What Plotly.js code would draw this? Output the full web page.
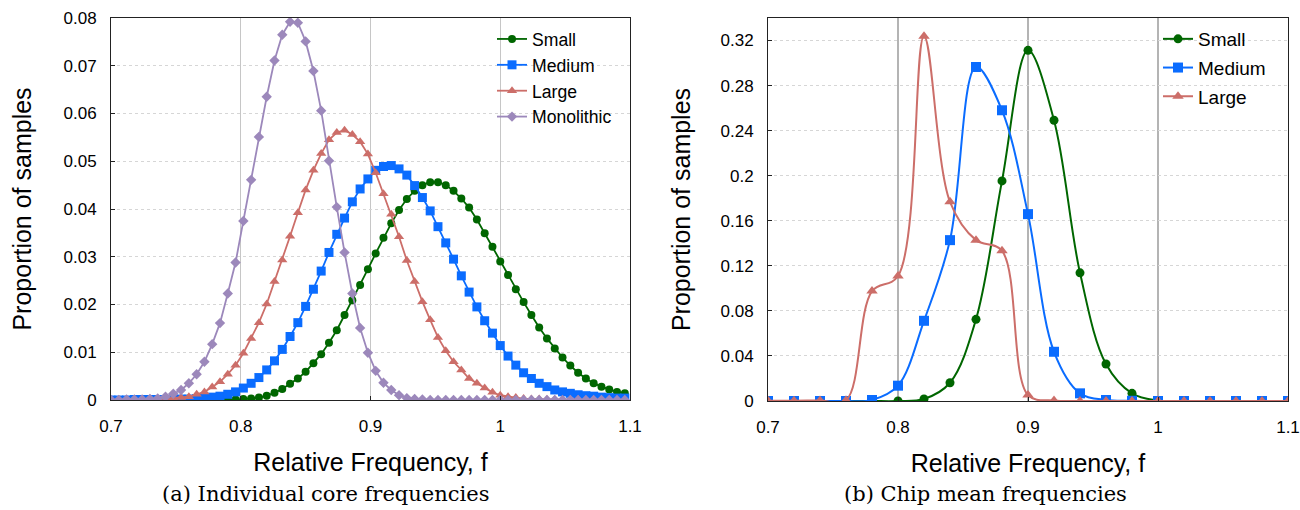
<!DOCTYPE html>
<html>
<head>
<meta charset="utf-8">
<script src="https://cdn.plot.ly/plotly-3.0.1.min.js"></script>
<style>
html,body{margin:0;padding:0;background:#fff;}
#chart{width:1300px;height:510px;}
</style>
</head>
<body>
<div id="chart"></div>
<script>
// ---------- (a) Individual core frequencies ----------
const coreFreq = [0.700,0.706,0.712,0.718,0.724,0.730,0.736,0.742,0.748,0.754,0.760,0.766,0.772,0.778,0.784,0.790,0.796,0.802,0.808,0.814,0.820,0.826,0.832,0.838,0.844,0.850,0.856,0.862,0.868,0.874,0.880,0.886,0.892,0.898,0.904,0.910,0.916,0.922,0.928,0.934,0.940,0.946,0.952,0.958,0.964,0.970,0.976,0.982,0.988,0.994,1.000,1.006,1.012,1.018,1.024,1.030,1.036,1.042,1.048,1.054,1.060,1.066,1.072,1.078,1.084,1.090,1.096];
const coreSmall = [0,0,0,0,0,0,0,0,0,0,0,0,0.0001,0.0001,0.0001,0.0001,0.0001,0.0002,0.0003,0.0005,0.0009,0.0015,0.0023,0.0034,0.0045,0.0059,0.0077,0.0096,0.0120,0.0146,0.0178,0.0209,0.0241,0.0274,0.0307,0.0340,0.0370,0.0398,0.0421,0.0438,0.0450,0.0456,0.0456,0.0450,0.0438,0.0422,0.0403,0.0378,0.0349,0.0321,0.0290,0.0262,0.0232,0.0205,0.0178,0.0152,0.0129,0.0108,0.0089,0.0072,0.0057,0.0045,0.0035,0.0028,0.0022,0.0017,0.0014];
const coreMedium = [0,0,0,0.0001,0.0001,0.0001,0.0001,0.0001,0.0002,0.0002,0.0002,0.0003,0.0004,0.0006,0.0008,0.0012,0.0017,0.0025,0.0035,0.0047,0.0063,0.0082,0.0106,0.0133,0.0162,0.0196,0.0232,0.0270,0.0309,0.0347,0.0381,0.0415,0.0442,0.0463,0.0481,0.0489,0.0491,0.0484,0.0471,0.0449,0.0424,0.0396,0.0363,0.0329,0.0295,0.0260,0.0226,0.0195,0.0166,0.0140,0.0114,0.0092,0.0073,0.0057,0.0045,0.0035,0.0028,0.0021,0.0017,0.0014,0.0011,0.0009,0.0008,0.0006,0.0005,0.0004,0.0004];
const coreLarge = [0,0.0001,0.0001,0.0001,0.0001,0.0002,0.0002,0.0003,0.0004,0.0005,0.0007,0.0012,0.0017,0.0027,0.0038,0.0054,0.0073,0.0098,0.0129,0.0162,0.0201,0.0248,0.0293,0.0343,0.0392,0.0440,0.0481,0.0516,0.0545,0.0560,0.0565,0.0556,0.0541,0.0515,0.0476,0.0432,0.0389,0.0342,0.0292,0.0248,0.0206,0.0168,0.0131,0.0103,0.0080,0.0063,0.0045,0.0035,0.0025,0.0016,0.0010,0.0007,0.0005,0.0003,0.0002,0.0002,0.0001,0.0001,0.0001,0.0001,0.0001,0,0,0,0,0,0];
const coreMonolithic = [0,0,0.0001,0.0001,0.0001,0.0002,0.0003,0.0007,0.0013,0.0021,0.0035,0.0054,0.0080,0.0117,0.0161,0.0223,0.0288,0.0375,0.0461,0.0551,0.0635,0.0711,0.0765,0.0792,0.0790,0.0751,0.0689,0.0606,0.0501,0.0404,0.0309,0.0223,0.0151,0.0099,0.0061,0.0036,0.0021,0.0010,0.0004,0.0002,0.0001,0,0,0,0,0,0,0,0,0,0,0,0,0,0,0,0,0,0,0,0,0,0,0,0,0,0];

// ---------- (b) Chip mean frequencies ----------
const chipFreq = [0.70,0.72,0.74,0.76,0.78,0.80,0.82,0.84,0.86,0.88,0.90,0.92,0.94,0.96,0.98,1.00,1.02,1.04,1.06,1.08,1.10];
const chipSmall = [0,0,0,0,0,0,0.0018,0.0162,0.0725,0.1954,0.3113,0.2492,0.1138,0.0328,0.0068,0.0004,0,0,0,0,0];
const chipMedium = [0,0,0,0,0.0009,0.0136,0.0712,0.1428,0.2965,0.2581,0.1659,0.0437,0.0068,0.0009,0.0002,0,0,0,0,0,0];
const chipLarge = [0.0002,0.0003,0.0004,0.0006,0.0976,0.1109,0.3237,0.1768,0.1428,0.1333,0.0053,0.0005,0,0,0,0,0,0,0,0,0];

// ---------- ticks & labels ----------
const xTickVals = [0.7,0.8,0.9,1.0,1.1];
const xTickText = ['0.7','0.8','0.9','1','1.1'];
const coreYTickVals = [0,0.01,0.02,0.03,0.04,0.05,0.06,0.07,0.08];
const coreYTickText = ['0','0.01','0.02','0.03','0.04','0.05','0.06','0.07','0.08'];
const chipYTickVals = [0,0.04,0.08,0.12,0.16,0.2,0.24,0.28,0.32];
const chipYTickText = ['0','0.04','0.08','0.12','0.16','0.2','0.24','0.28','0.32'];
const seriesNames = ['Small','Medium','Large','Monolithic'];
const xTitle = 'Relative Frequency, f';
const yTitle = 'Proportion of samples';
const captionA = '(a) Individual core frequencies';
const captionB = '(b) Chip mean frequencies';

const SANS = 'Liberation Sans, Arial, Helvetica, sans-serif';
const SERIF = 'DejaVu Serif, Liberation Serif, serif';
const COL = {Small:'#006600', Medium:'#0a6cff', Large:'#cc6e69', Monolithic:'#9c88bb'};
const SYM = {Small:'circle', Medium:'square', Large:'triangle-up', Monolithic:'diamond'};
const MSIZE = {Small:8, Medium:9, Large:9, Monolithic:8};

function coreTrace(name, ys) {
  return {
    type:'scatter', mode:'lines+markers', name:name, x:coreFreq, y:ys,
    xaxis:'x', yaxis:'y', legend:'legend', legendgroup:'a'+name,
    line:{color:COL[name], width:1.8},
    marker:{symbol:SYM[name], size:MSIZE[name], color:COL[name]}
  };
}
function chipTrace(name, ys) {
  return {
    type:'scatter', mode:'lines+markers', name:name, x:chipFreq, y:ys,
    xaxis:'x2', yaxis:'y2', legend:'legend2', legendgroup:'b'+name,
    line:{color:COL[name], width:2, shape:'spline', smoothing:1},
    marker:{symbol:SYM[name], size:MSIZE[name]+1, color:COL[name]}
  };
}

const data = [
  coreTrace(seriesNames[0], coreSmall),
  coreTrace(seriesNames[1], coreMedium),
  coreTrace(seriesNames[2], coreLarge),
  coreTrace(seriesNames[3], coreMonolithic),
  chipTrace(seriesNames[0], chipSmall),
  chipTrace(seriesNames[1], chipMedium),
  chipTrace(seriesNames[2], chipLarge)
];

function xAxis(domain, anchor, gridcolor) {
  return {
    domain:domain, anchor:anchor, range:[0.7,1.1],
    tickmode:'array', tickvals:xTickVals, ticktext:xTickText,
    showgrid:true, gridcolor:gridcolor, gridwidth:1.2,
    showline:true, linecolor:'#222', linewidth:1, mirror:true,
    ticks:'inside', ticklen:4, tickcolor:'#222', zeroline:false,
    ticklabelstandoff:11,
    tickfont:{family:SANS, size:17, color:'#000'},
    title:{text:xTitle, font:{family:SANS, size:25, color:'#000'}, standoff:18}
  };
}
function yAxis(domain, anchor, range, vals, text, standoff) {
  return {
    domain:domain, anchor:anchor, range:range,
    tickmode:'array', tickvals:vals, ticktext:text,
    showgrid:true, gridcolor:'#d6d6d6', gridwidth:1, griddash:'3px,3px',
    showline:true, linecolor:'#222', linewidth:1, mirror:true,
    ticks:'inside', ticklen:4, tickcolor:'#222', zeroline:false,
    ticklabelstandoff:10,
    tickfont:{family:SANS, size:17, color:'#000'},
    title:{text:yTitle, font:{family:SANS, size:25, color:'#000'}, standoff:standoff}
  };
}

const layout = {
  width:1300, height:510,
  margin:{l:0, r:0, t:0, b:0},
  paper_bgcolor:'#fff', plot_bgcolor:'#fff',
  showlegend:true,
  xaxis: xAxis([111/1300, 630/1300], 'y', '#c6c6c6'),
  yaxis: yAxis([1-400/510, 1-18/510], 'x', [0,0.08], coreYTickVals, coreYTickText, 24),
  xaxis2: xAxis([768/1300, 1288/1300], 'y2', '#b4b4b4'),
  yaxis2: yAxis([1-401/510, 1-18/510], 'x2', [0,0.34], chipYTickVals, chipYTickText, 22),
  legend:{x:492/1300, xanchor:'left', y:1-21/510, yanchor:'top', bgcolor:'rgba(0,0,0,0)',
          font:{family:SANS, size:17.6, color:'#000'}, traceorder:'grouped', tracegroupgap:0, itemwidth:30},
  legend2:{x:1158/1300, xanchor:'left', y:1-20/510, yanchor:'top', bgcolor:'rgba(0,0,0,0)',
          font:{family:SANS, size:19, color:'#000'}, traceorder:'grouped', tracegroupgap:1, itemwidth:30},
  annotations:[
    {text:captionA, xref:'paper', yref:'paper', x:326/1300, y:1-494/510, xanchor:'center', yanchor:'middle',
     showarrow:false, font:{family:SERIF, size:21, color:'#000'}},
    {text:captionB, xref:'paper', yref:'paper', x:985/1300, y:1-494/510, xanchor:'center', yanchor:'middle',
     showarrow:false, font:{family:SERIF, size:21, color:'#000'}}
  ]
};

Plotly.newPlot('chart', data, layout, {displayModeBar:false, staticPlot:true});
</script>
</body>
</html>
